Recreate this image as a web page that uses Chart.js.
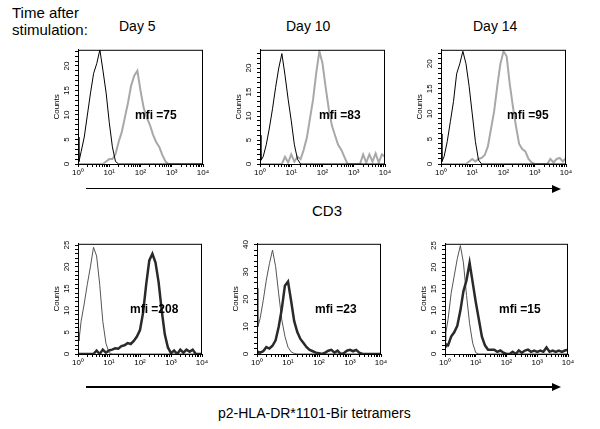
<!DOCTYPE html>
<html>
<head>
<meta charset="utf-8">
<script src="https://cdn.jsdelivr.net/npm/chart.js@4.4.1/dist/chart.umd.min.js"></script>
<style>
  body { margin: 0; background: #fff; width: 600px; height: 429px; position: relative; overflow: hidden;
         font-family: "Liberation Sans", Arial, sans-serif; color: #000; }
  .panel { position: absolute; }
  .txt { position: absolute; white-space: pre; line-height: 1; }
  .mfi { font-weight: bold; font-size: 12px; }
  .line { position: absolute; height: 1.5px; background: #000; }
  .head { position: absolute; width: 0; height: 0; border-left: 9px solid #000;
          border-top: 4px solid transparent; border-bottom: 4px solid transparent; }
</style>
</head>
<body>

<div class="txt" style="left:12px;top:5px;font-size:15px;">Time after</div>
<div class="txt" style="left:12px;top:22px;font-size:15px;">stimulation:</div>
<div class="txt" style="left:119px;top:19px;font-size:14px;">Day 5</div>
<div class="txt" style="left:286px;top:19px;font-size:14px;">Day 10</div>
<div class="txt" style="left:473px;top:19px;font-size:14px;">Day 14</div>

<div class="line" style="left:86px;top:187.5px;width:467px;"></div>
<div class="head" style="left:552px;top:184.5px;"></div>
<div class="txt" style="left:312px;top:203px;font-size:15px;">CD3</div>

<div class="line" style="left:86px;top:386px;width:467px;"></div>
<div class="head" style="left:552px;top:383px;"></div>
<div class="txt" style="left:218px;top:406px;font-size:14px;">p2-HLA-DR*1101-Bir tetramers</div>

<script>
// fluorescence bins, in decades (10^0 .. 10^4)
const bins = [0, 0.03,
  0.1, 0.2, 0.3, 0.4, 0.5, 0.6, 0.7, 0.8, 0.9, 1.0,
  1.1, 1.2, 1.3, 1.4, 1.5, 1.6, 1.7, 1.8, 1.9, 2.0,
  2.1, 2.2, 2.3, 2.4, 2.5, 2.6, 2.7, 2.8, 2.9, 3.0,
  3.1, 3.2, 3.3, 3.4, 3.5, 3.6, 3.7, 3.8, 3.9, 4.0];

const xTickLabels = ["10\u2070", "10\u00b9", "10\u00b2", "10\u00b3", "10\u2074"];

// CD3 staining (top row): control (black) and CD3 (grey)
const cd3CtrlDay5 = [5.5, 0.5,
  2.5, 5.5, 10, 14.5, 18.5, 20.5, 23.3, 19, 14.5, 8.5,
  3.5, 0.5, 0, 0, 0, 0, 0, 0, 0, 0,
  0, 0, 0, 0, 0, 0, 0, 0, 0, 0,
  0, 0, 0, 0, 0, 0, 0, 0, 0, 0];
const cd3Day5 = [0, 0,
  0, 0, 0, 0, 0, 0, 0, 0, 0.5, 1,
  1, 2, 4.5, 6.5, 9.5, 12.5, 16, 18, 19, 15,
  11.5, 9.5, 8, 6, 4.5, 3.5, 1.8, 0.5, 0, 0,
  0, 0, 0, 0, 0, 0, 0, 0, 0, 0];

const cd3CtrlDay10 = [6, 0.8,
  1.5, 4, 7.5, 11.5, 16, 20, 23, 18.5, 13.5, 9,
  4, 1, 0, 0, 0, 0, 0, 0, 0, 0,
  0, 0, 0, 0, 0, 0, 0, 0, 0, 0,
  0, 0, 0, 0, 0, 0, 0, 0, 0, 0];
const cd3Day10 = [0, 0,
  0, 0, 0, 0, 0, 0, 0, 1.5, 0.3, 2,
  0.5, 1.5, 1, 3, 5.5, 9.5, 13.5, 19, 23.5, 21,
  16, 11.5, 8, 6, 4, 3, 1.5, 0, 0, 0,
  0, 0, 2, 0.3, 2, 0.5, 2.2, 0.3, 2, 1.5];

const cd3CtrlDay14 = [6, 0.5,
  1.5, 4.5, 8.5, 12.5, 18, 20, 22.5, 20, 15.5, 10,
  4.5, 0.8, 0, 0, 0, 0, 0, 0, 0, 0,
  0, 0, 0, 0, 0, 0, 0, 0, 0, 0,
  0, 0, 0, 0, 0, 0, 0, 0, 0, 0];
const cd3Day14 = [0, 0,
  0, 0, 0, 0, 0, 0, 0, 0, 0.5, 1,
  0.5, 1, 1.2, 1.8, 3.5, 7, 10.5, 15.5, 20, 22.5,
  21.5, 16, 11.5, 7.5, 4, 3, 2.5, 1, 0.3, 0,
  0, 0, 0, 0, 1, 0.3, 1, 1.2, 0.5, 1.2];

// tetramer staining (bottom row): control (thin) and tetramer (thick)
const tetCtrlDay5 = [5, 3,
  7.5, 11.5, 16, 20, 24.5, 22.5, 16, 7.5, 2.5, 0.3,
  0, 0, 0, 0, 0, 0, 0, 0, 0, 0,
  0, 0, 0, 0, 0, 0, 0, 0, 0, 0,
  0, 0, 0, 0, 0, 0, 0, 0, 0, 0];
const tetDay5 = [0, 0,
  0, 0, 0, 0, 0, 0.8, 0, 1, 0.3, 0.8,
  1, 1.3, 1.2, 1.8, 2, 2.5, 2.3, 3, 4, 5.5,
  9.5, 16, 21.5, 23, 21, 16.5, 10, 4.5, 1.5, 0.2,
  0.8, 0, 1, 0.3, 1, 0.5, 1, 0, 0, 0];

const tetCtrlDay10 = [24, 10,
  13, 19.5, 27, 33, 38, 32, 22, 12.5, 6.5, 2.5,
  0.8, 0.2, 0, 0, 0, 0, 0, 0, 0, 0,
  0, 0, 0, 0, 0, 0, 0, 0, 0, 0,
  0, 0, 0, 0, 0, 0, 0, 0, 0, 0];
const tetDay10 = [0, 0.8,
  0.5, 1, 2.5, 2, 3, 5, 10, 16.5, 25, 26.5,
  19.5, 12, 8, 5.5, 4, 2.5, 1.5, 1, 0.5, 0.3,
  0, 0.5, 1.2, 1.5, 0.5, 1.2, 0, 0.3, 1.2, 1.5,
  1, 1.5, 0.5, 0, 0, 0, 0, 0, 0, 0];

const tetCtrlDay14 = [3, 5,
  8, 14, 18, 22, 25, 21, 13.5, 7, 2.5, 0.3,
  0, 0, 0, 0, 0, 0, 0, 0, 0, 0,
  0, 0, 0, 0, 0, 0, 0, 0, 0, 0,
  0, 0, 0, 0, 0, 0, 0, 0, 0, 0];
const tetDay14 = [2.5, 2.2,
  2, 4, 5, 6.5, 10, 14.5, 17, 21, 16.5, 12,
  8, 4, 2, 1, 1, 1, 0.5, 0.8, 0.3, 0,
  0, 0.5, 0, 0.8, 0.3, 0.8, 1, 0.5, 0.8, 0.5,
  0.8, 0.5, 1.5, 0.5, 0.8, 0.5, 0.8, 0.5, 0.8, 1];

const mfiLabels = ["mfi =75", "mfi =83", "mfi =95", "mfi =208", "mfi =23", "mfi =15"];

// panel layout: plot box [left, top, right, bottom] in page pixels
const panels = [
  { box: [78, 46, 203, 164], ctrl: cd3CtrlDay5,  stain: cd3Day5,  yMax: 23.3, yMinor: 1, row: 0, mfi: [135, 109] },
  { box: [260, 46, 385, 164], ctrl: cd3CtrlDay10, stain: cd3Day10, yMax: 23.8, yMinor: 1, row: 0, mfi: [319, 109] },
  { box: [441, 46, 566, 164], ctrl: cd3CtrlDay14, stain: cd3Day14, yMax: 22.8, yMinor: 1, row: 0, mfi: [507, 109] },
  { box: [78, 240, 202, 354], ctrl: tetCtrlDay5,  stain: tetDay5,  yMax: 25.3, yMinor: 1, row: 1, mfi: [130, 303] },
  { box: [257, 240, 381, 354], ctrl: tetCtrlDay10, stain: tetDay10, yMax: 40.3, yMinor: 2, row: 1, mfi: [315, 303] },
  { box: [445, 240, 568, 354], ctrl: tetCtrlDay14, stain: tetDay14, yMax: 25.4, yMinor: 1, row: 1, mfi: [499, 303] },
];

const FONT = "'Liberation Sans', Arial, sans-serif";
const padL = 26, padT = 5, padR = 10, padB = 19;

// minor ticks on a log axis: 1..9 in every decade
const xTickValues = [];
for (let d = 0; d < 4; d++) {
  for (let k = 1; k <= 9; k++) xTickValues.push(d + Math.log10(k));
}
xTickValues.push(4);

const frame = {
  id: "frame",
  afterDraw(chart) {
    const { ctx, chartArea: a } = chart;
    ctx.save();
    ctx.strokeStyle = "#000";
    ctx.lineWidth = 1;
    ctx.strokeRect(a.left + 0.5, a.top + 0.5, a.right - a.left - 1, a.bottom - a.top);
    ctx.restore();
  },
};

panels.forEach((p, idx) => {
  const w = p.box[2] - p.box[0], h = p.box[3] - p.box[1];
  const wrap = document.createElement("div");
  wrap.className = "panel";
  wrap.style.left = (p.box[0] - padL) + "px";
  wrap.style.top = (p.box[1] - padT) + "px";
  const cv = document.createElement("canvas");
  cv.width = w + padL + padR;
  cv.height = h + padT + padB;
  wrap.appendChild(cv);
  document.body.appendChild(wrap);

  const top = p.row === 0;
  new Chart(cv, {
    type: "line",
    data: {
      datasets: [
        {
          data: bins.map((b, i) => ({ x: b, y: p.ctrl[i] })),
          borderColor: top ? "#000" : "#555",
          borderWidth: 1,
          pointRadius: 0,
          tension: 0,
          order: top ? 0 : 1,
        },
        {
          data: bins.map((b, i) => ({ x: b, y: p.stain[i] })),
          borderColor: top ? "#a8a8a8" : "#2a2a2a",
          borderWidth: top ? 2 : 2.5,
          pointRadius: 0,
          tension: 0,
          order: top ? 1 : 0,
        },
      ],
    },
    options: {
      responsive: false,
      animation: false,
      layout: { padding: { left: 0, top: padT, right: padR, bottom: 0 } },
      plugins: { legend: { display: false }, tooltip: { enabled: false } },
      scales: {
        x: {
          type: "linear",
          min: 0,
          max: 4,
          afterBuildTicks: (s) => { s.ticks = xTickValues.map((v) => ({ value: v })); },
          afterFit: (s) => { s.height = padB; },
          grid: { drawOnChartArea: false, tickLength: 3, tickColor: "#000" },
          border: { color: "#000", width: 1 },
          ticks: {
            autoSkip: false, minRotation: 0, maxRotation: 0, padding: 1, color: "#000",
            font: { size: 8, family: FONT },
            callback: (v) => (Number.isInteger(v) ? xTickLabels[v] : ""),
          },
        },
        y: {
          min: 0,
          max: p.yMax,
          afterBuildTicks: (s) => {
            const t = [];
            for (let v = 0; v <= p.yMax; v += p.yMinor) t.push({ value: v });
            s.ticks = t;
          },
          afterFit: (s) => { s.width = padL; },
          grid: { drawOnChartArea: false, tickLength: 3, tickColor: "#000" },
          border: { color: "#000", width: 1 },
          title: { display: true, text: "Counts", color: "#000", padding: 0, font: { size: 8, family: FONT } },
          ticks: {
            autoSkip: false, minRotation: 90, maxRotation: 90, crossAlign: "center", padding: 4, color: "#000",
            font: { size: 8, family: FONT },
            callback: (v) => (v % (p.yMax > 30 ? 10 : 5) === 0 ? String(v) : ""),
          },
        },
      },
    },
    plugins: [frame],
  });

  const m = document.createElement("div");
  m.className = "txt mfi";
  m.style.left = p.mfi[0] + "px";
  m.style.top = p.mfi[1] + "px";
  m.textContent = mfiLabels[idx];
  document.body.appendChild(m);
});
</script>
</body>
</html>
